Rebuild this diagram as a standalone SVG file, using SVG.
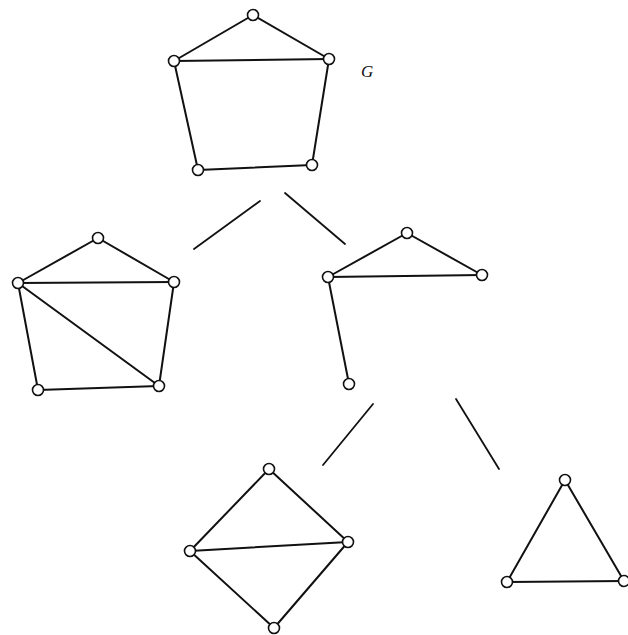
<svg xmlns="http://www.w3.org/2000/svg" width="628" height="635" viewBox="0 0 628 635">
<style>
.e{stroke:#111;stroke-width:2;fill:none;stroke-linecap:round}
.c{stroke:#111;stroke-width:1.8;fill:none;stroke-linecap:round}
.v{fill:#fff;stroke:#111;stroke-width:1.6}
.lbl{font-family:"Liberation Serif",serif;font-style:italic;font-size:17px;fill:#111}
</style>
<rect width="628" height="635" fill="#fff"/>
<g id="connectors">
<line class="c" x1="194" y1="249" x2="260" y2="201"/>
<line class="c" x1="285" y1="193" x2="345" y2="244"/>
<line class="c" x1="323" y1="465" x2="373" y2="404"/>
<line class="c" x1="456" y1="399" x2="499" y2="469"/>
</g>
<g id="graphG">
<line class="e" x1="253" y1="15" x2="174" y2="61"/>
<line class="e" x1="253" y1="15" x2="329" y2="59"/>
<line class="e" x1="174" y1="61" x2="329" y2="59"/>
<line class="e" x1="174" y1="61" x2="198" y2="170"/>
<line class="e" x1="329" y1="59" x2="312" y2="165"/>
<line class="e" x1="198" y1="170" x2="312" y2="165"/>
<circle class="v" cx="253" cy="15" r="5.5"/>
<circle class="v" cx="174" cy="61" r="5.5"/>
<circle class="v" cx="329" cy="59" r="5.5"/>
<circle class="v" cx="198" cy="170" r="5.5"/>
<circle class="v" cx="312" cy="165" r="5.5"/>
<text class="lbl" x="361" y="77">G</text>
</g>
<g id="graphLeft">
<line class="e" x1="98" y1="238" x2="18" y2="283"/>
<line class="e" x1="98" y1="238" x2="174" y2="282"/>
<line class="e" x1="18" y1="283" x2="174" y2="282"/>
<line class="e" x1="18" y1="283" x2="38" y2="390"/>
<line class="e" x1="18" y1="283" x2="159" y2="386"/>
<line class="e" x1="174" y1="282" x2="159" y2="386"/>
<line class="e" x1="38" y1="390" x2="159" y2="386"/>
<circle class="v" cx="98" cy="238" r="5.5"/>
<circle class="v" cx="18" cy="283" r="5.5"/>
<circle class="v" cx="174" cy="282" r="5.5"/>
<circle class="v" cx="38" cy="390" r="5.5"/>
<circle class="v" cx="159" cy="386" r="5.5"/>
</g>
<g id="graphRight">
<line class="e" x1="407" y1="233" x2="328" y2="277"/>
<line class="e" x1="407" y1="233" x2="482" y2="275"/>
<line class="e" x1="328" y1="277" x2="482" y2="275"/>
<line class="e" x1="328" y1="277" x2="349" y2="384"/>
<circle class="v" cx="407" cy="233" r="5.5"/>
<circle class="v" cx="328" cy="277" r="5.5"/>
<circle class="v" cx="482" cy="275" r="5.5"/>
<circle class="v" cx="349" cy="384" r="5.5"/>
</g>
<g id="graphDiamond">
<line class="e" x1="269" y1="469" x2="190" y2="551"/>
<line class="e" x1="269" y1="469" x2="348" y2="542"/>
<line class="e" x1="190" y1="551" x2="348" y2="542"/>
<line class="e" x1="190" y1="551" x2="274" y2="628"/>
<line class="e" x1="348" y1="542" x2="274" y2="628"/>
<circle class="v" cx="269" cy="469" r="5.5"/>
<circle class="v" cx="190" cy="551" r="5.5"/>
<circle class="v" cx="348" cy="542" r="5.5"/>
<circle class="v" cx="274" cy="628" r="5.5"/>
</g>
<g id="graphTriangle">
<line class="e" x1="565" y1="480" x2="507" y2="582"/>
<line class="e" x1="565" y1="480" x2="624" y2="581"/>
<line class="e" x1="507" y1="582" x2="624" y2="581"/>
<circle class="v" cx="565" cy="480" r="5.5"/>
<circle class="v" cx="507" cy="582" r="5.5"/>
<circle class="v" cx="624" cy="581" r="5.5"/>
</g>
</svg>
